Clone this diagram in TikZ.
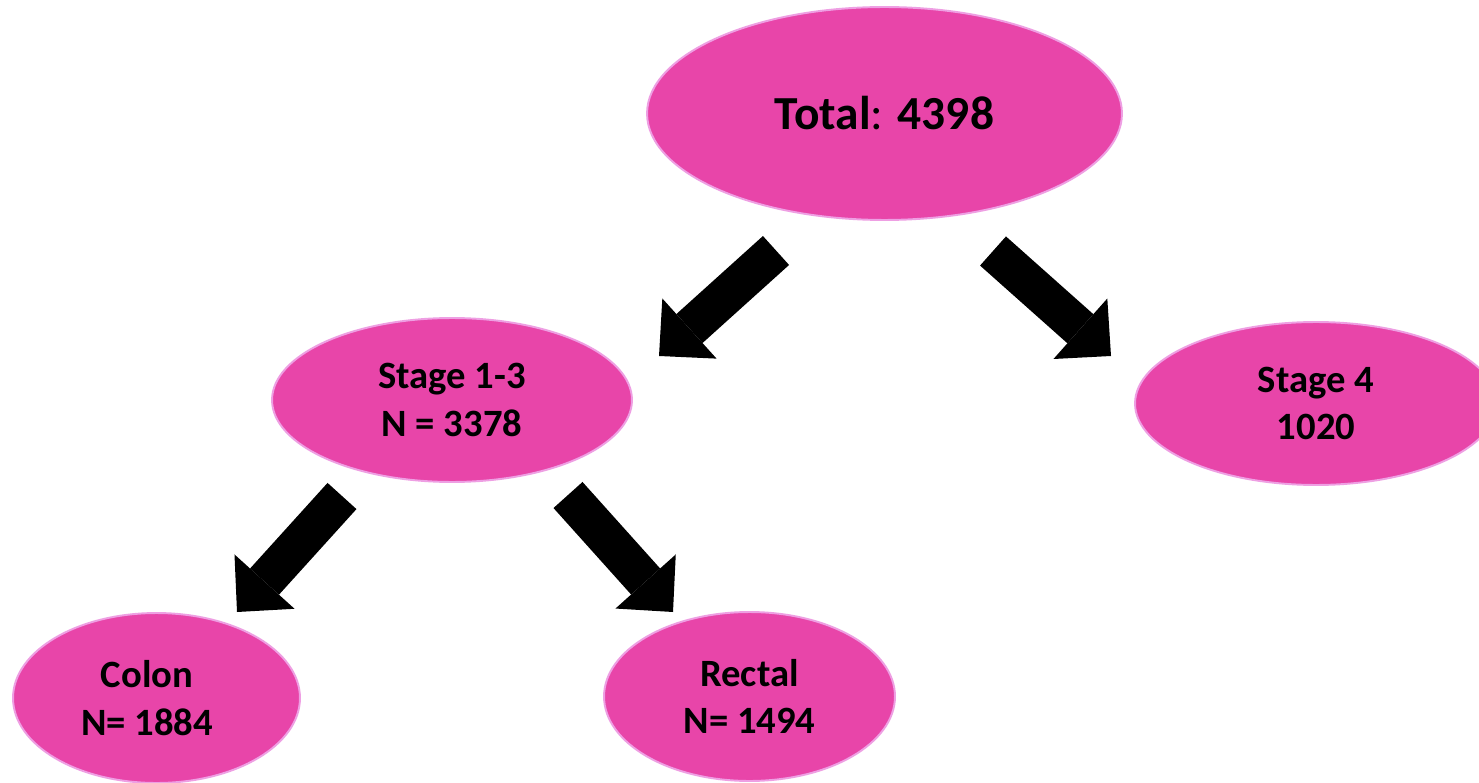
\documentclass[tikz,border=0pt]{standalone}
\usepackage{fontspec}
\setmainfont{Carlito}
\usetikzlibrary{arrows.meta, shapes.geometric}
\definecolor{pinkfill}{HTML}{E845A9}
\definecolor{pinkline}{HTML}{EE9FE3}
\tikzset{
  blob/.style={
    ellipse, draw=pinkline, fill=pinkfill, line width=1.1pt,
    inner sep=0pt, align=center,
    font=\bfseries\fontsize{22}{27}\selectfont
  },
  bigblob/.style={blob, font=\bfseries\fontsize{27}{32}\selectfont},
  bigarrow/.style={-{Triangle[length=0.82cm, width=1.62cm, line width=0pt]}, line width=0.78cm, draw=black},
}
\begin{document}
\begin{tikzpicture}[x=0.02cm, y=-0.02cm]
  \clip (0,0) rectangle (1479,783);
  \fill[white] (0,0) rectangle (1479,783);

  \node[bigblob, minimum width=9.5cm, minimum height=4.26cm] (total) at (884.5,113.5) {Total{\mdseries:} 4398};
  \node[blob, minimum width=7.2cm, minimum height=3.28cm] (early) at (452,400) {Stage 1-3\\N = 3378};
  \node[blob, minimum width=7.24cm, minimum height=3.26cm] (late) at (1316,403.5) {Stage 4\\1020};
  \node[blob, minimum width=5.74cm, minimum height=3.4cm] (colon) at (156.5,698) {Colon\hspace*{0.38cm}\\N= 1884\hspace*{0.38cm}};
  \node[blob, minimum width=5.82cm, minimum height=3.38cm] (rectal) at (749.5,696.5) {Rectal\\N= 1494};

  \coordinate (tail1) at (776,250.5);
  \coordinate (tip1) at (659,356);
  \coordinate (tail2) at (993,251);
  \coordinate (tip2) at (1111,356);
  \coordinate (tail3) at (342,496);
  \coordinate (tip3) at (237,612);
  \coordinate (tail4) at (568,495);
  \coordinate (tip4) at (673,612);

  \draw[bigarrow] (tail1) -- (tip1);
  \draw[bigarrow] (tail2) -- (tip2);
  \draw[bigarrow] (tail3) -- (tip3);
  \draw[bigarrow] (tail4) -- (tip4);
\end{tikzpicture}
\end{document}
